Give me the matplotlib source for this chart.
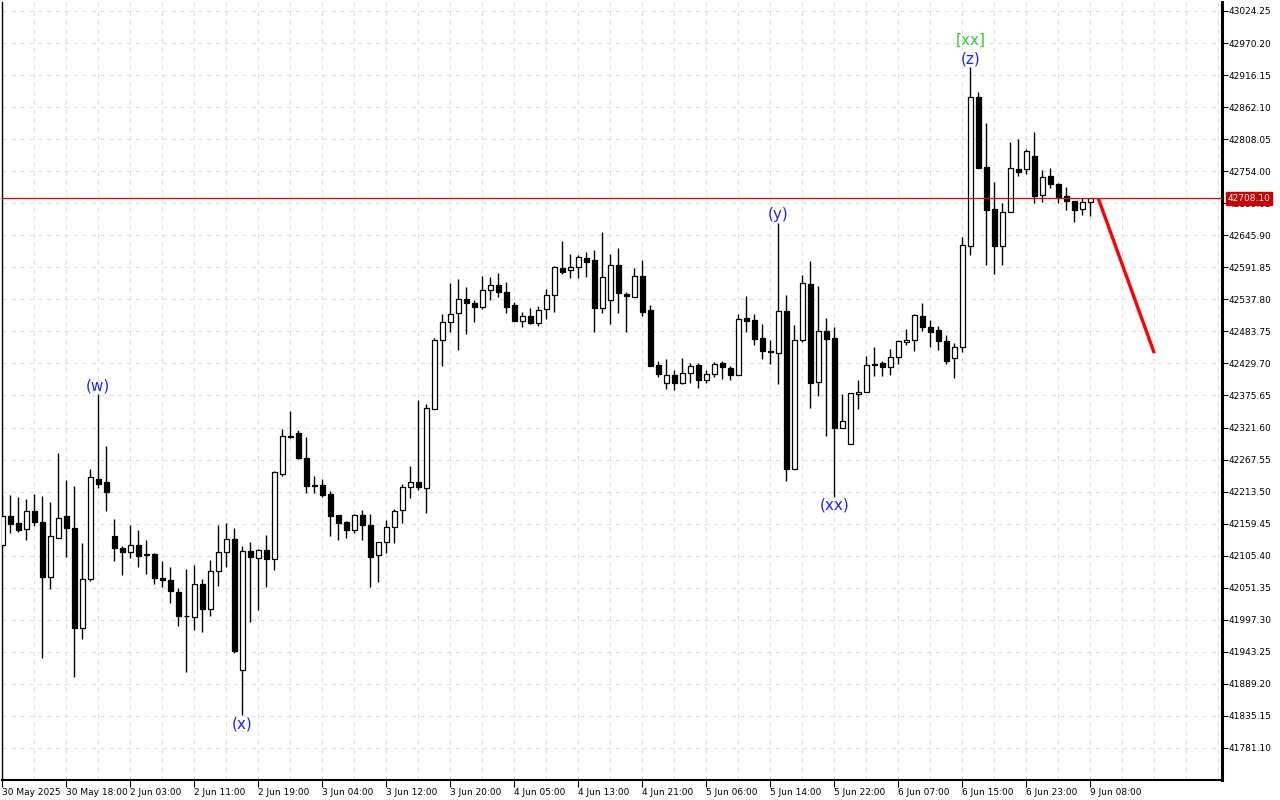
import numpy as np
import matplotlib
matplotlib.use("Agg")
import matplotlib.pyplot as plt

# H1 candles (price values)
opens = [42123, 42172, 42160, 42150, 42180, 42163, 42070, 42135, 42172, 42152,
         41984, 42066, 42235, 42229, 42139, 42118, 42111, 42124, 42107, 42108,
         42067, 42064, 42044, 42003, 42002, 42058, 42016, 42079, 42111, 42133,
         41912, 42113, 42101, 42115, 42099, 42244, 42308, 42312, 42271, 42225,
         42224, 42210, 42174, 42162, 42148, 42174, 42158, 42106, 42128, 42153,
         42182, 42221, 42229, 42219, 42353, 42470, 42499, 42514, 42538, 42532,
         42525, 42553, 42562, 42550, 42528, 42502, 42509, 42498, 42521, 42545,
         42590, 42587, 42592, 42607, 42604, 42524, 42536, 42595, 42546, 42542,
         42578, 42519, 42427, 42397, 42410, 42396, 42413, 42427, 42401, 42412,
         42431, 42422, 42410, 42506, 42503, 42473, 42449, 42448, 42518, 42252,
         42470, 42564, 42398, 42484, 42472, 42321, 42293, 42378, 42381, 42427,
         42430, 42423, 42440, 42466, 42470, 42509, 42492, 42486, 42467, 42439,
         42457, 42628, 42879, 42761, 42690, 42628, 42685, 42758, 42757, 42779,
         42713, 42746, 42732, 42712, 42703, 42690, 42702]
highs = [42208, 42208, 42204, 42201, 42210, 42206, 42196, 42279, 42233, 42223,
         42127, 42252, 42378, 42291, 42167, 42122, 42157, 42149, 42132, 42110,
         42097, 42086, 42051, 42083, 42090, 42066, 42098, 42157, 42161, 42152,
         42122, 42128, 42117, 42140, 42248, 42319, 42349, 42317, 42305, 42240,
         42235, 42215, 42174, 42164, 42175, 42183, 42176, 42129, 42165, 42184,
         42226, 42257, 42368, 42362, 42472, 42513, 42565, 42572, 42558, 42536,
         42577, 42575, 42583, 42567, 42533, 42517, 42523, 42526, 42555, 42594,
         42636, 42614, 42613, 42617, 42621, 42651, 42614, 42624, 42551, 42590,
         42605, 42529, 42433, 42437, 42419, 42439, 42431, 42430, 42419, 42432,
         42433, 42425, 42513, 42544, 42513, 42496, 42470, 42667, 42545, 42495,
         42579, 42603, 42560, 42506, 42491, 42378, 42379, 42402, 42443, 42457,
         42434, 42454, 42469, 42487, 42513, 42531, 42503, 42493, 42477, 42464,
         42643, 42929, 42888, 42835, 42735, 42700, 42803, 42808, 42791, 42820,
         42756, 42760, 42734, 42727, 42703, 42708, 42709]
lows = [42118, 42144, 42146, 42132, 42156, 41932, 42050, 42135, 42104, 41901,
        41965, 42063, 42220, 42180, 42097, 42073, 42102, 42087, 42075, 42058,
        42052, 42026, 41986, 41909, 41980, 41976, 42003, 42055, 42087, 41941,
        41836, 41994, 42014, 42052, 42082, 42239, 42304, 42268, 42211, 42211,
        42205, 42139, 42132, 42136, 42143, 42132, 42052, 42061, 42110, 42127,
        42161, 42203, 42217, 42177, 42352, 42426, 42482, 42453, 42480, 42500,
        42522, 42536, 42541, 42515, 42502, 42492, 42497, 42493, 42504, 42517,
        42581, 42574, 42574, 42576, 42482, 42514, 42497, 42515, 42483, 42541,
        42509, 42426, 42407, 42387, 42385, 42395, 42397, 42389, 42396, 42406,
        42404, 42401, 42410, 42483, 42461, 42437, 42428, 42395, 42232, 42252,
        42466, 42355, 42374, 42308, 42205, 42320, 42293, 42352, 42381, 42409,
        42409, 42411, 42428, 42460, 42451, 42485, 42458, 42452, 42429, 42405,
        42449, 42613, 42760, 42595, 42580, 42595, 42685, 42746, 42750, 42700,
        42702, 42725, 42700, 42688, 42668, 42680, 42678]
closes = [42172, 42159, 42148, 42180, 42163, 42069, 42139, 42169, 42152, 41984,
          42066, 42238, 42227, 42213, 42118, 42111, 42124, 42105, 42108, 42068,
          42064, 42045, 42004, 42004, 42057, 42016, 42079, 42111, 42133, 41945,
          42113, 42103, 42115, 42099, 42247, 42308, 42305, 42270, 42223, 42223,
          42207, 42173, 42161, 42148, 42174, 42158, 42104, 42129, 42153, 42180,
          42221, 42229, 42221, 42354, 42470, 42499, 42513, 42538, 42532, 42525,
          42553, 42562, 42551, 42525, 42502, 42509, 42498, 42519, 42545, 42592,
          42584, 42592, 42609, 42601, 42524, 42575, 42595, 42548, 42543, 42577,
          42517, 42426, 42412, 42410, 42396, 42413, 42425, 42401, 42412, 42429,
          42423, 42411, 42505, 42502, 42471, 42450, 42450, 42518, 42252, 42470,
          42565, 42397, 42484, 42471, 42320, 42333, 42379, 42381, 42427, 42428,
          42423, 42440, 42468, 42470, 42511, 42492, 42483, 42467, 42434, 42457,
          42629, 42879, 42760, 42689, 42628, 42685, 42759, 42752, 42788, 42712,
          42744, 42732, 42710, 42703, 42689, 42702, 42708.1]

time_labels = ["30 May 2025", "30 May 18:00", "2 Jun 03:00", "2 Jun 11:00",
               "2 Jun 19:00", "3 Jun 04:00", "3 Jun 12:00", "3 Jun 20:00",
               "4 Jun 05:00", "4 Jun 13:00", "4 Jun 21:00", "5 Jun 06:00",
               "5 Jun 14:00", "5 Jun 22:00", "6 Jun 07:00", "6 Jun 15:00",
               "6 Jun 23:00", "9 Jun 08:00"]

price_ticks = [41781.10, 41835.15, 41889.20, 41943.25, 41997.30, 42051.35,
               42105.40, 42159.45, 42213.50, 42267.55, 42321.60, 42375.65,
               42429.70, 42483.75, 42537.80, 42591.85, 42645.90, 42699.95,
               42754.00, 42808.05, 42862.10, 42916.15, 42970.20, 43024.25]

last_price = 42708.10

# wave labels: (bar, text, colour, above/below)
waves = [(12, "(w)", "#2020ff", "up"), (30, "(x)", "#2020ff", "down"),
         (97, "(y)", "#2020ff", "up"), (104, "(xx)", "#2020ff", "down"),
         (121, "(z)", "#2020ff", "up")]

# projected move
proj_x = [137, 144]
proj_y = [42708.1, 42447]

o = np.array(opens, float)
h = np.array(highs, float)
l = np.array(lows, float)
c = np.array(closes, float)
idx = np.arange(len(o))

fig = plt.figure(figsize=(12.8, 8), dpi=100)
ax = fig.add_axes([2 / 1280, 20 / 800, 1220 / 1280, 778 / 800])

ax.set_xlim(-0.04, 152.46)
ax.set_ylim(41727.0, 43039.4)

# grid
ax.set_xticks(np.arange(0, 153, 4), minor=True)
ax.xaxis.remove_overlapping_locs = False
ax.grid(which="minor", axis="x", color="#dedede", ls=(0, (4, 4)), lw=0.8)
ax.grid(which="major", axis="y", color="#dedede", ls=(0, (4, 4)), lw=0.8)
ax.set_axisbelow(True)

# candles
ax.vlines(idx, l, h, color="black", lw=1.0, zorder=2)
body_lo = np.minimum(o, c)
body_h = np.maximum(np.abs(c - o), 0.6)
face = np.where(c >= o, "white", "black")
ax.bar(idx, body_h, bottom=body_lo, width=0.6, color=face,
       edgecolor="black", lw=0.9, zorder=3)

# current price line + projection
ax.axhline(last_price, color="#e00000", lw=0.9, zorder=4)
ax.plot(proj_x, proj_y, color="#ff0000", lw=2.4, zorder=5,
        solid_capstyle="butt")

# wave labels
for b, txt, col, side in waves:
    if side == "up":
        ax.annotate(txt, (b, h[b]), xytext=(0, 0.5), textcoords="offset points",
                    ha="center", va="bottom", fontsize=11, color=col)
    else:
        ax.annotate(txt, (b, l[b]), xytext=(0, -0.5), textcoords="offset points",
                    ha="center", va="top", fontsize=11, color=col)
ax.annotate("[xx]", (121, h[121]), xytext=(0, 14.5), textcoords="offset points",
            ha="center", va="bottom", fontsize=11, color="#3cc83c")

# axes styling
for s in ["top"]:
    ax.spines[s].set_visible(False)
ax.spines["left"].set_linewidth(1.0)
ax.spines["bottom"].set_linewidth(1.5)
ax.spines["right"].set_linewidth(2.2)

ax.yaxis.tick_right()
ax.set_yticks(price_ticks)
ax.set_yticklabels(["%.2f" % v for v in price_ticks])
ax.tick_params(axis="y", which="major", direction="out", length=4, width=0.8,
               labelsize=6.5, pad=1)

ax.set_xticks(np.arange(0, 8 * len(time_labels), 8))
ax.set_xticklabels(time_labels, ha="left")
ax.tick_params(axis="x", which="major", direction="out", length=5, width=0.8,
               labelsize=6.5, pad=1)
ax.tick_params(axis="x", which="minor", length=0)

# last price tag
ax.annotate("%.2f" % last_price, xy=(1.0, last_price),
            xycoords=("axes fraction", "data"), xytext=(4, 0),
            textcoords="offset points", ha="left", va="center",
            fontsize=6.5, color="white",
            bbox=dict(boxstyle="square,pad=0.2", fc="#c80000", ec="#c80000"),
            annotation_clip=False, zorder=10)

fig.savefig("out.png", dpi=100)
